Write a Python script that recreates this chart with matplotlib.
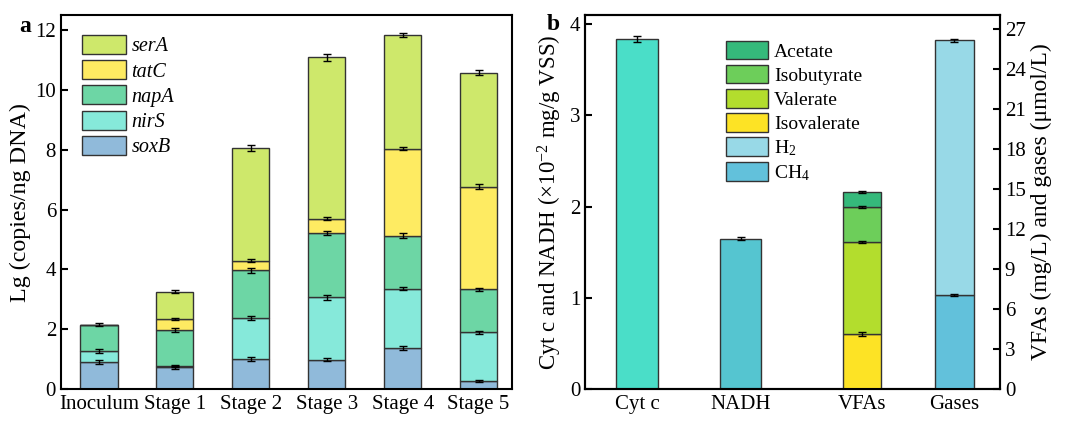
import matplotlib
matplotlib.use("Agg")
import matplotlib.pyplot as plt
import numpy as np

plt.rcParams['font.family'] = ['Liberation Serif', 'DejaVu Serif']
plt.rcParams['mathtext.fontset'] = 'custom'
plt.rcParams['mathtext.rm'] = 'Liberation Serif'
plt.rcParams['mathtext.it'] = 'Liberation Serif:italic'
plt.rcParams['font.size'] = 15

# ---- panel a data (stacked segment heights, Lg copies/ng DNA) ----
etapas = ["Inoculum", "Stage 1", "Stage 2", "Stage 3", "Stage 4", "Stage 5"]
genes = ["soxB", "nirS", "napA", "tatC", "serA"]
soxB = [0.90, 0.72, 1.00, 0.98, 1.37, 0.26]
nirS = [0.38, 0.06, 1.38, 2.08, 1.99, 1.63]
napA = [0.87, 1.19, 1.59, 2.15, 1.77, 1.45]
tatC = [0.00, 0.37, 0.32, 0.49, 2.91, 3.43]
serA = [0.00, 0.92, 3.76, 5.39, 3.80, 3.81]
err_soxB = [0.06, 0.04, 0.06, 0.06, 0.08, 0.03]
err_nirS = [0.06, 0.03, 0.07, 0.08, 0.06, 0.06]
err_napA = [0.06, 0.06, 0.08, 0.07, 0.08, 0.05]
err_tatC = [0.00, 0.04, 0.05, 0.05, 0.06, 0.08]
err_serA = [0.00, 0.04, 0.10, 0.11, 0.06, 0.08]
cores_a = ["#90BADA", "#86E9DA", "#6DD6A5", "#FEEB62", "#CEE86B"]

# ---- panel b data ----
itens_b = ["Cyt c", "NADH", "VFAs", "Gases"]
cytc, err_cytc = 3.84, 0.03
nadh, err_nadh = 1.65, 0.015
vfas_nomes = ["Isovalerate", "Valerate", "Isobutyrate", "Acetate"]
vfas = [4.12, 6.89, 2.65, 1.10]          # mg/L
err_vfas = [0.12, 0.10, 0.08, 0.08]
gases_nomes = ["H$_2$", "CH$_4$"]
ch4, err_ch4 = 7.07, 0.08                # umol/L
h2, err_h2 = 19.05, 0.10
cores_vfas = ["#FDE325", "#B3DD2D", "#6DCE5A", "#35B97B"]
cor_cytc, cor_nadh = "#4ADEC8", "#55C5D0"
cor_h2, cor_ch4 = "#98D9E7", "#62C1DB"

fig = plt.figure(figsize=(10.68, 4.21), dpi=100)
ax1 = fig.add_axes([0.0571, 0.076, 0.4223, 0.888])
ax2 = fig.add_axes([0.5478, 0.076, 0.3885, 0.888])
ax3 = ax2.twinx()

larg = 0.49
borda = dict(edgecolor="#333333", linewidth=1.0)
ebk = dict(ecolor="black", elinewidth=1.0, capsize=3.0, capthick=1.0)

x = np.arange(len(etapas))
segs = [soxB, nirS, napA, tatC, serA]
errs = [err_soxB, err_nirS, err_napA, err_tatC, err_serA]
base = np.zeros(len(etapas))
handles_a = []
for nome, seg, er, cor in zip(genes, segs, errs, cores_a):
    seg = np.array(seg)
    b = ax1.bar(x, seg, larg, bottom=base, color=cor, label=nome, **borda)
    handles_a.append(b)
    topo = base + seg
    mask = seg > 0
    ax1.errorbar(x[mask], topo[mask], yerr=np.array(er)[mask], fmt="none", **ebk)
    base = topo

ax1.set_xlim(-0.5, 5.44)
ax1.set_ylim(0, 12.5)
ax1.set_xticks(x)
ax1.set_xticklabels(etapas)
ax1.set_yticks([0, 2, 4, 6, 8, 10, 12])
ax1.set_ylabel("Lg (copies/ng DNA)", fontsize=17.3, labelpad=3)
ax1.tick_params(axis="x", length=0, pad=4)
ax1.tick_params(axis="y", direction="in", length=5, width=1.5)
leg1 = ax1.legend(handles_a[::-1], genes[::-1], loc="upper left", frameon=False,
                  fontsize=14.5, handlelength=2.2, handleheight=1.07, labelspacing=0.19,
                  handletextpad=0.25, borderpad=0, borderaxespad=0,
                  bbox_to_anchor=(0.0466, 0.9465))
for t in leg1.get_texts():
    t.set_fontstyle("italic")
fig.text(0.018, 0.925, "a", fontsize=17, fontweight="bold")

# panel b
pos = [0.50, 1.50, 2.67, 3.56]
ax2.bar(pos[0], cytc, 0.40, color=cor_cytc, **borda)
ax2.errorbar(pos[0], cytc, yerr=err_cytc, fmt="none", **ebk)
ax2.bar(pos[1], nadh, 0.40, color=cor_nadh, **borda)
ax2.errorbar(pos[1], nadh, yerr=err_nadh, fmt="none", **ebk)

handles_b = []
base = 0.0
for nome, v, er, cor in zip(vfas_nomes, vfas, err_vfas, cores_vfas):
    b = ax3.bar(pos[2], v, 0.36, bottom=base, color=cor, label=nome, **borda)
    handles_b.append(b)
    ax3.errorbar(pos[2], base + v, yerr=er, fmt="none", **ebk)
    base += v

b_ch4 = ax3.bar(pos[3], ch4, 0.37, color=cor_ch4, **borda)
ax3.errorbar(pos[3], ch4, yerr=err_ch4, fmt="none", **ebk)
b_h2 = ax3.bar(pos[3], h2, 0.37, bottom=ch4, color=cor_h2, **borda)
ax3.errorbar(pos[3], ch4 + h2, yerr=err_h2, fmt="none", **ebk)

ax2.set_xlim(0, 4)
ax2.set_ylim(0, 4.1)
ax3.set_ylim(0, 28)
ax2.set_xticks(pos)
ax2.set_xticklabels(itens_b)
ax2.set_yticks([0, 1, 2, 3, 4])
ax3.set_yticks(np.arange(0, 28, 3))
ax2.set_ylabel("Cyt c and NADH ($\\times$10$^{-2}$ mg/g VSS)", fontsize=16.5, labelpad=4)
ax3.set_ylabel("VFAs (mg/L) and gases (\u03bcmol/L)", fontsize=17, labelpad=4)
ax2.tick_params(axis="x", length=0, pad=4)
ax2.tick_params(axis="y", direction="in", length=5, width=1.5)
ax3.tick_params(axis="y", direction="in", length=5, width=1.5)

leg_h = handles_b[::-1] + [b_h2, b_ch4]
leg_l = vfas_nomes[::-1] + gases_nomes
ax3.legend(leg_h, leg_l, loc="upper left", frameon=False, bbox_to_anchor=(0.340, 0.931),
           fontsize=14, handlelength=2.16, handleheight=1.08, labelspacing=0.22,
           handletextpad=0.3, borderpad=0, borderaxespad=0)
fig.text(0.512, 0.929, "b", fontsize=17, fontweight="bold")

for ax in (ax1, ax2, ax3):
    for s in ax.spines.values():
        s.set_linewidth(1.5)

fig.savefig("out.png", dpi=100)
